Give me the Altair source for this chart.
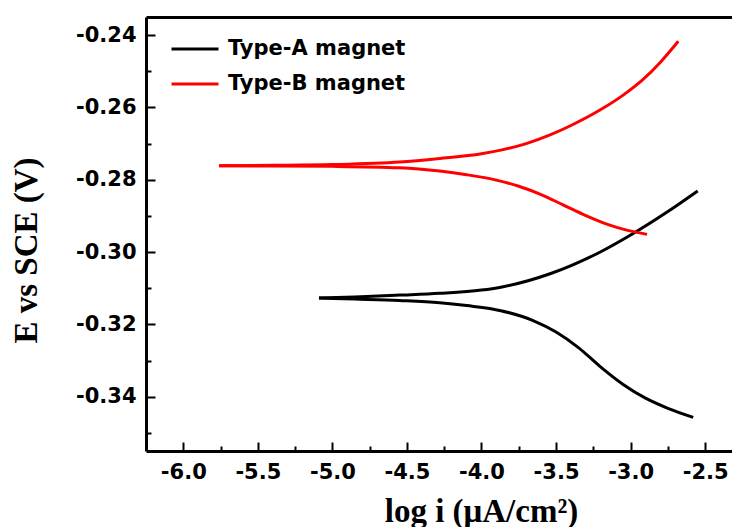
import altair as alt
import pandas as pd

# ---- data ----
series_names = ["Type-A magnet", "Type-B magnet"]
series_colors = ["black", "red"]

# Type-A: cathodic branch (tip -> end) and anodic branch (tip -> end)
a_cat_logi = [-5.09, -4.85, -4.55, -4.28, -4.10, -3.87, -3.65, -3.50, -3.35, -3.20, -3.05, -2.90, -2.75, -2.58]
a_cat_E = [-0.3127, -0.3130, -0.3134, -0.3140, -0.3148, -0.3162, -0.3190, -0.3221, -0.3264, -0.3318, -0.3366, -0.3404, -0.3432, -0.3457]
a_ano_logi = [-5.09, -4.85, -4.55, -4.28, -4.00, -3.87, -3.54, -3.20, -2.98, -2.75, -2.55]
a_ano_E = [-0.3127, -0.3124, -0.3119, -0.3114, -0.3105, -0.3097, -0.3060, -0.2999, -0.2948, -0.2888, -0.2831]

# Type-B
b_cat_logi = [-5.76, -5.40, -5.00, -4.55, -4.28, -4.10, -3.90, -3.75, -3.60, -3.45, -3.30, -3.15, -3.02, -2.89]
b_cat_E = [-0.2761, -0.2762, -0.2763, -0.2767, -0.2776, -0.2786, -0.2801, -0.2818, -0.2841, -0.2870, -0.2899, -0.2924, -0.2940, -0.2951]
b_ano_logi = [-5.76, -5.40, -5.00, -4.55, -4.28, -4.00, -3.87, -3.70, -3.54, -3.40, -3.20, -3.05, -2.92, -2.80, -2.68]
b_ano_E = [-0.2761, -0.2760, -0.2758, -0.2751, -0.2741, -0.2728, -0.2718, -0.2700, -0.2676, -0.2650, -0.2606, -0.2566, -0.2524, -0.2475, -0.2417]

x_major = [-6.0, -5.5, -5.0, -4.5, -4.0, -3.5, -3.0, -2.5]
x_minor = [-5.75, -5.25, -4.75, -4.25, -3.75, -3.25, -2.75]
y_major = [-0.34, -0.32, -0.30, -0.28, -0.26, -0.24]
y_minor = [-0.35, -0.33, -0.31, -0.29, -0.27, -0.25]

x_domain = [-6.25, -2.32]
y_domain = [-0.355, -0.235]

rows = []
for name, branch, xs, es in [
    (series_names[0], "A-cat", a_cat_logi, a_cat_E),
    (series_names[0], "A-ano", a_ano_logi, a_ano_E),
    (series_names[1], "B-cat", b_cat_logi, b_cat_E),
    (series_names[1], "B-ano", b_ano_logi, b_ano_E),
]:
    for xv, ev in zip(xs, es):
        rows.append({"series": name, "branch": branch, "logi": xv, "E": ev})
df = pd.DataFrame(rows)

xs_scale = alt.Scale(domain=x_domain, nice=False, zero=False)
ys_scale = alt.Scale(domain=y_domain, nice=False, zero=False)

fix_minus = "replace(datum.label, '\u2212', '-')"
lab = dict(labelFont="DejaVu Sans", labelFontWeight="bold", labelFontSize=21, labelColor="black")

base = alt.Chart(df)

lines = base.mark_line(strokeWidth=3, interpolate="monotone").encode(
    x=alt.X("logi:Q", scale=xs_scale, axis=alt.Axis(
        orient="bottom", values=x_major, format=".1f", labelExpr=fix_minus,
        ticks=False, tickSize=0, domainWidth=3, domainColor="black", grid=False,
        labelPadding=10, labelFlush=False, **lab,
        title="log i (μA/cm²)", titleFont="Liberation Serif", titleFontSize=33,
        titleFontWeight="bold", titleColor="black", titleX=335, titleY=70,
        titleBaseline="alphabetic", titleAlign="center")),
    y=alt.Y("E:Q", scale=ys_scale, axis=alt.Axis(
        orient="left", values=y_major, format=".2f", labelExpr=fix_minus,
        ticks=False, tickSize=0, domainWidth=3, domainColor="black", grid=False,
        labelPadding=10, labelFlush=False, **lab,
        title="E vs SCE (V)", titleFont="Liberation Serif", titleFontSize=33,
        titleFontWeight="bold", titleColor="black", titleX=-120, titleY=233,
        titleAngle=270, titleBaseline="middle", titleAlign="center")),
    color=alt.Color("series:N", scale=alt.Scale(domain=series_names, range=series_colors),
                    legend=alt.Legend(title=None, orient="none", legendX=24, legendY=7,
                                      symbolType="stroke", symbolSize=2209, symbolStrokeWidth=3,
                                      labelFont="DejaVu Sans", labelFontWeight="bold",
                                      labelFontSize=21, labelColor="black", labelOffset=8,
                                      labelLimit=0, rowPadding=0, padding=0)),
    detail="branch:N",
)

def tick_layer(xvals, yvals, size):
    return base.mark_point(opacity=0).encode(
        x=alt.X("logi:Q", scale=xs_scale, axis=alt.Axis(
            orient="bottom", values=xvals, domain=False, labels=False, ticks=True,
            tickSize=size, offset=-size, tickWidth=2, tickColor="black", grid=False, title=None)),
        y=alt.Y("E:Q", scale=ys_scale, axis=alt.Axis(
            orient="left", values=yvals, domain=False, labels=False, ticks=True,
            tickSize=size, offset=-size, tickWidth=2, tickColor="black", grid=False, title=None)),
    )

major = tick_layer(x_major, y_major, 9)
minor = tick_layer(x_minor, y_minor, 5)

top = base.mark_point(opacity=0).encode(
    x=alt.X("logi:Q", scale=xs_scale, axis=alt.Axis(
        orient="top", domain=True, domainWidth=3, domainColor="black", labels=False,
        ticks=False, grid=False, title=None)),
    y=alt.Y("E:Q", scale=ys_scale, axis=None),
)

chart = alt.layer(lines, major, minor, top).resolve_axis(
    x="independent", y="independent"
).properties(
    width=586, height=434,
    autosize=alt.AutoSizeParams(type="none"),
    padding={"left": 146, "top": 17, "right": 0, "bottom": 76},
    background="white",
).configure_view(stroke=None)

chart.save("out.html", embed_options={"renderer": "svg", "actions": False})
